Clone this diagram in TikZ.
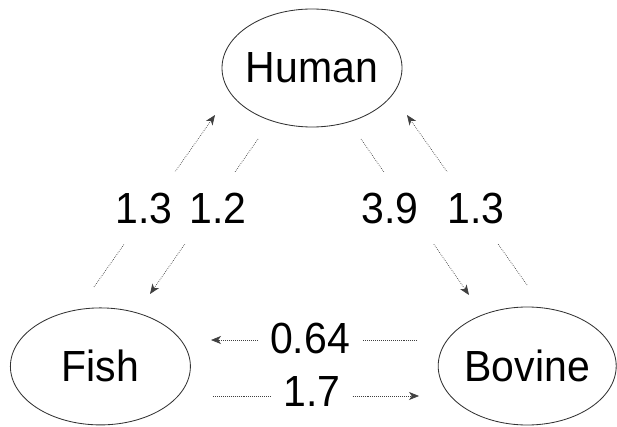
\documentclass[tikz,border=0pt]{standalone}
\usepackage{fontspec}
\setmainfont[FakeStretch=0.94]{Liberation Sans}
\usetikzlibrary{shapes.geometric, arrows.meta}
\tikzset{>={Stealth[length=0.25cm, width=0.2cm, inset=0.07cm]}}
\tikzset{
    species/.style={ellipse, draw=black!80, line width=0.6pt, inner sep=-0.1cm, font=\fontsize{31}{36}\selectfont},
    flow/.style={line width=0.5pt, draw=black!75, dash pattern=on 0.5pt off 0.9pt},
    num/.style={fill=white, inner ysep=0pt, inner xsep=0.3cm, font=\fontsize{31}{36}\selectfont},
    band/.style={num, minimum height=1.8cm, inner xsep=0.4cm}
}

\begin{document}
\begin{tikzpicture}
    \useasboundingbox (0,0) rectangle (15.425,10.65);
    \node [species, minimum width=4.5cm, minimum height=2.95cm] (human) at (7.8,8.95) {Human};
    \node [species, minimum width=4.5cm, minimum height=2.925cm] (fish) at (2.51,1.49) {Fish};
    \node [species, minimum width=4.45cm, minimum height=2.95cm] (bovine) at (13.18,1.5) {Bovine};
    % free ends of the connectors
    \coordinate (fh0) at (2.35,3.475);   \coordinate (fh1) at (5.375,7.775);
    \coordinate (hf0) at (6.45,7.175);   \coordinate (hf1) at (3.75,3.3);
    \coordinate (hb0) at (9.025,7.175);  \coordinate (hb1) at (11.725,3.275);
    \coordinate (bh0) at (13.175,3.525); \coordinate (bh1) at (10.175,7.775);
    \coordinate (bf0) at (10.425,2.15);  \coordinate (bf1) at (5.275,2.15);
    \coordinate (fb0) at (5.325,0.75);   \coordinate (fb1) at (10.475,0.75);
    \draw [->, flow] (fh0) -- (fh1);
    \draw [->, flow] (hf0) -- (hf1);
    \draw [->, flow] (hb0) -- (hb1);
    \draw [->, flow] (bh0) -- (bh1);
    \draw [->, flow] (bf0) -- (bf1);
    \draw [->, flow] (fb0) -- (fb1);
    % rates
    \node [band] (lfh) at (3.6,5.45) {1.3};
    \node [band] (lhf) at (5.45,5.45) {1.2};
    \node [band] (lhb) at (9.75,5.45) {3.9};
    \node [band] (lbh) at (11.9,5.45) {1.3};
    \node [num] (lbf) at (7.75,2.2) {0.64};
    \node [num] (lfb) at (7.8,0.85) {1.7};
\end{tikzpicture}
\end{document}
